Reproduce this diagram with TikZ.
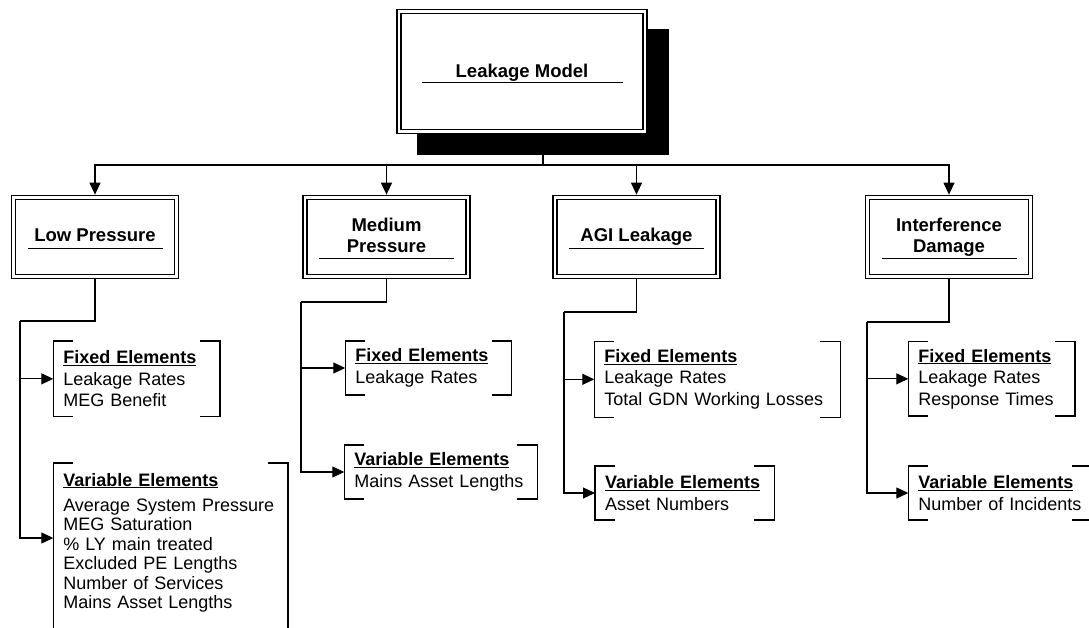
\documentclass[tikz,border=0pt]{standalone}
\usepackage{fontspec}
\setmainfont{Liberation Sans}
\usetikzlibrary{arrows.meta, calc, backgrounds}

% title with a rule drawn under it
\newcommand{\boxtitle}[3][-14.1pt]{\rule{0pt}{17pt}#3\\[#1]\rule[-0.6pt]{#2}{1.2pt}}
\newcommand{\elemhead}[1]{\underline{\textbf{#1}}}
\setlength{\lineskiplimit}{-20pt}

\tikzset{
    framebox/.style={draw, double, double distance=2.8pt, line width=1.2pt, fill=white, inner sep=0pt, outer sep=2.6pt, align=center, font=\fontsize{18.5}{20.6}\selectfont\bfseries},
    childbox/.style={framebox, minimum width=163pt, minimum height=79.5pt},
    shadowbox/.style={fill=black, inner sep=0pt, outer sep=0pt, minimum width=252pt, minimum height=126pt},
    elembox/.style={anchor=north west, inner xsep=10pt, inner ysep=0pt, outer sep=0pt, align=left, font=\fontsize{18}{21.5}\selectfont},
    wire/.style={line width=1.2pt},
    link/.style={wire, -{Triangle[length=12pt,width=11pt]}}
}

\begin{document}
\begin{tikzpicture}[x=1pt, y=-1pt]
    \useasboundingbox (0,0) rectangle (1089,628);

    % model box and its shadow
    \node[framebox, minimum width=246pt, minimum height=120pt] (model) at (522,71.5) {\boxtitle[-15.6pt]{201pt}{Leakage Model}};
    \begin{scope}[on background layer]
        \node[shadowbox] (shade) at ($(model.center)+(21,20.5)$) {};
    \end{scope}

    % the four leakage areas
    \node[childbox] (lowp) at (95,237) {\boxtitle{135pt}{Low Pressure}};
    \node[childbox] (medp) at (386.5,237) {\boxtitle{135pt}{Medium\\Pressure}};
    \node[childbox] (agi) at (636.5,237) {\boxtitle{135pt}{AGI Leakage}};
    \node[childbox] (intf) at (949,237) {\boxtitle{135pt}{Interference\\Damage}};

    \foreach \c in {lowp,medp,agi,intf}
        \draw[link] (shade.south) -- ++(0,10) -| (\c.north);

    % fixed and variable elements
    \node[elembox, text width=146.7pt, minimum height=75.7pt] (lowfix) at (53.3,341) {\elemhead{Fixed Elements}\\Leakage Rates\\MEG Benefit};
    \node[elembox, text width=214.7pt, inner ysep=10pt, text depth=160pt, font=\fontsize{18}{19.5}\selectfont] (lowvar) at (53.3,463) {\elemhead{Variable Elements}\\[5.5pt]Average System Pressure\\MEG Saturation\\\% LY main treated\\Excluded PE Lengths\\Number of Services\\Mains Asset Lengths};
    \node[elembox, text width=146.4pt, minimum height=54pt] (medfix) at (345.3,341) {\elemhead{Fixed Elements}\\Leakage Rates};
    \node[elembox, text width=173pt, minimum height=54pt] (medvar) at (344.3,445) {\elemhead{Variable Elements}\\Mains Asset Lengths};
    \node[elembox, text width=226pt, minimum height=76pt] (agifix) at (594.3,341.3) {\elemhead{Fixed Elements}\\Leakage Rates\\Total GDN Working Losses};
    \node[elembox, text width=159.3pt, minimum height=54pt] (agivar) at (595,466) {\elemhead{Variable Elements}\\Asset Numbers};
    \node[elembox, text width=146.7pt, minimum height=74.3pt] (intfix) at (908.3,341.7) {\elemhead{Fixed Elements}\\Leakage Rates\\Response Times};
    \node[elembox, text width=164pt, minimum height=54pt] (intvar) at (908.3,466) {\elemhead{Variable Elements}\\\mbox{Number of Incidents}};

    \foreach \n in {lowfix,lowvar,medfix,medvar,agifix,agivar,intfix,intvar} {
        \draw[wire] ([xshift=20pt]\n.north west) -| (\n.south west) -- ++(20,0);
        \draw[wire] ([xshift=-20pt]\n.north east) -| (\n.south east) -- ++(-20,0);
    }

    % rails down to the elements
    \coordinate (lowrail) at (20,321);
    \coordinate (medrail) at (301,302);
    \coordinate (agirail) at (564,312);
    \coordinate (intrail) at (867,322);

    \draw[wire] (lowp.south) |- (lowrail);
    \draw[link] (lowrail) |- (lowfix.west);
    \draw[link] (lowrail) |- ($(lowvar.north west)+(0,75)$);

    \draw[wire] (medp.south) |- (medrail);
    \draw[link] (medrail) |- (medfix.west);
    \draw[link] (medrail) |- (medvar.west);

    \draw[wire] (agi.south) |- (agirail);
    \draw[link] (agirail) |- (agifix.west);
    \draw[link] (agirail) |- (agivar.west);

    \draw[wire] (intf.south) |- (intrail);
    \draw[link] (intrail) |- (intfix.west);
    \draw[link] (intrail) |- (intvar.west);
\end{tikzpicture}
\end{document}
